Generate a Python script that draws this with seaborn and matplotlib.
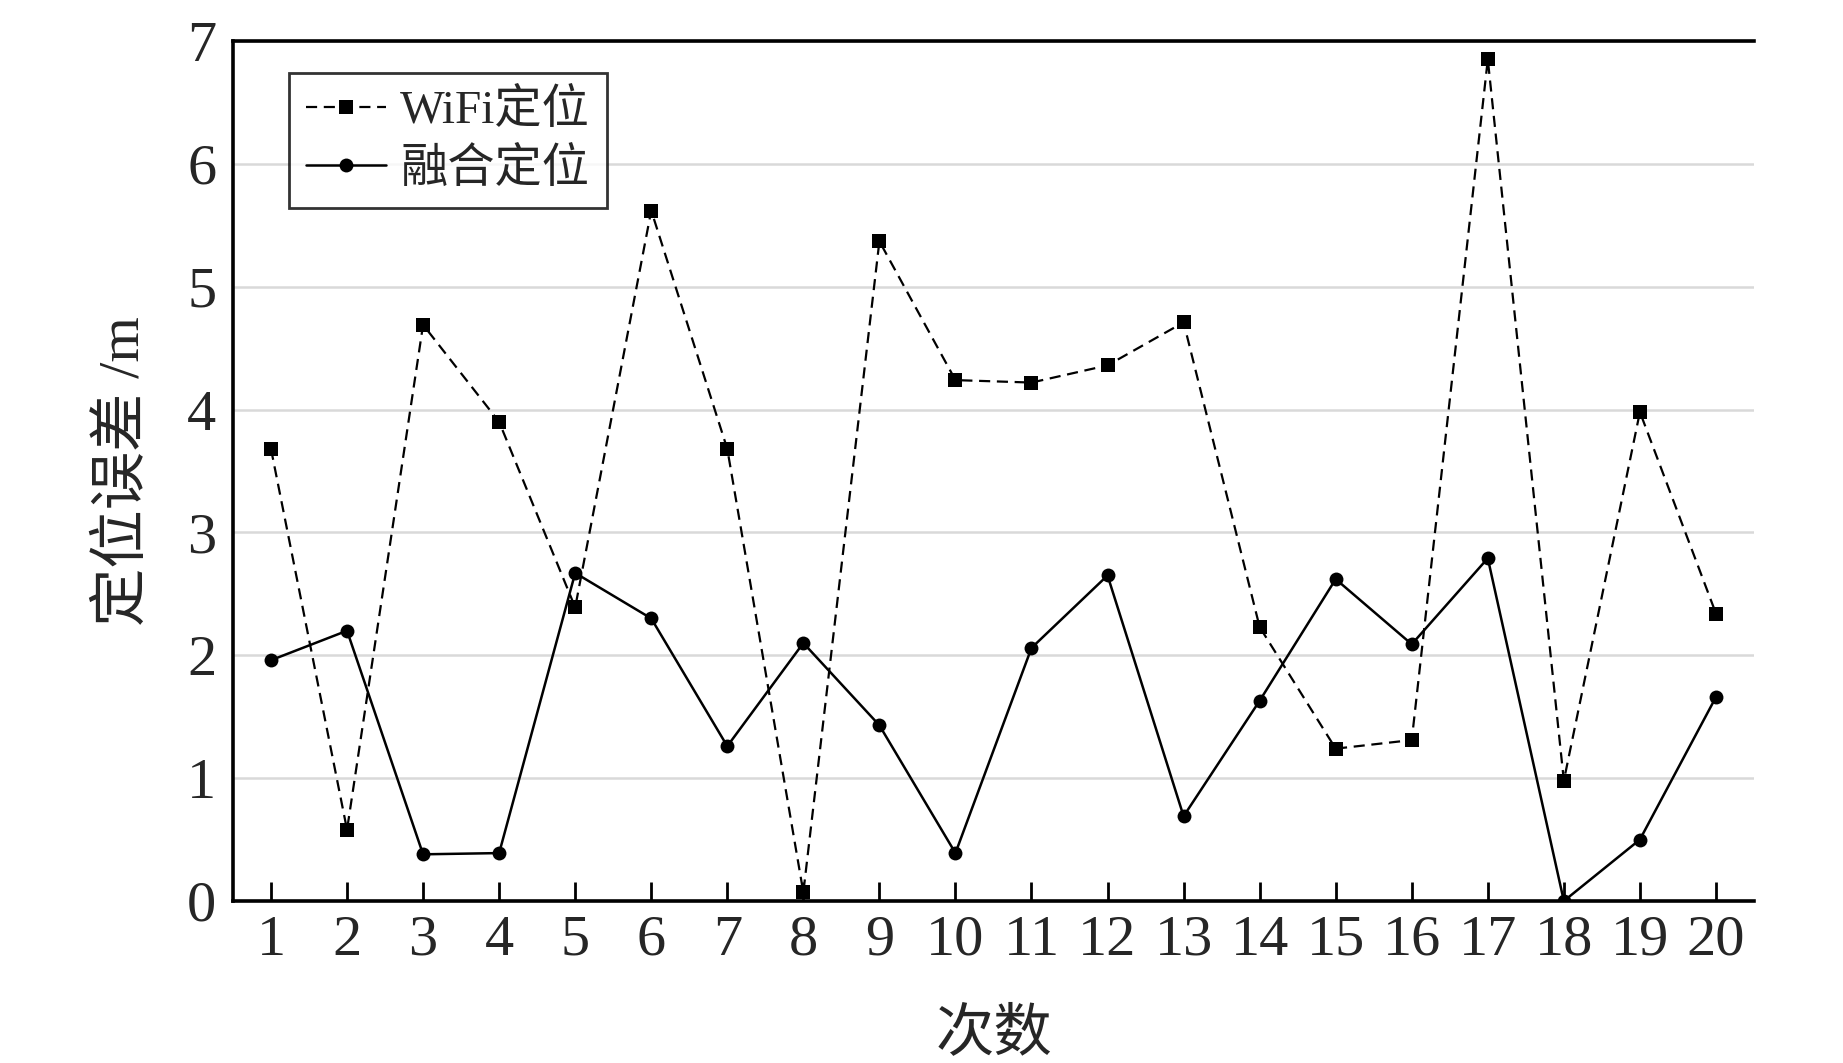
import pandas as pd
import matplotlib
matplotlib.use("Agg")
import matplotlib.pyplot as plt
import seaborn as sns

# 次数
runs = list(range(1, 21))
# WiFi定位 误差 (m)
wifi_err = [3.68, 0.58, 4.69, 3.90, 2.39, 5.62, 3.68, 0.07, 5.37, 4.24,
            4.22, 4.36, 4.71, 2.23, 1.24, 1.31, 6.85, 0.98, 3.98, 2.34]
# 融合定位 误差 (m)
fused_err = [1.96, 2.20, 0.38, 0.39, 2.67, 2.30, 1.26, 2.10, 1.43, 0.39,
             2.06, 2.65, 0.69, 1.63, 2.62, 2.09, 2.79, 0.00, 0.50, 1.66]

sns.set_style("white")
plt.rcParams['font.family'] = ['Liberation Serif', 'Noto Sans CJK SC']

df = pd.DataFrame({'run': runs, 'wifi': wifi_err, 'fused': fused_err})

fig = plt.figure(figsize=(18.43, 10.63), dpi=100)
ax = fig.add_axes([0.1264, 0.1524, 0.8253, 0.809])

sns.lineplot(data=df, x='run', y='wifi', ax=ax, color='black',
             linestyle='--', linewidth=1.6, marker='s', markersize=10,
             markeredgewidth=0, label='WiFi定位')
ax.lines[-1].set_dashes((5, 3))
sns.lineplot(data=df, x='run', y='fused', ax=ax, color='black',
             linestyle='-', linewidth=1.8, marker='o', markersize=10,
             markeredgewidth=0, label='融合定位')

ax.set_xlim(0.5, 20.5)
ax.set_ylim(0, 7)
ax.set_xticks(runs)
ax.set_yticks(range(0, 8))
ax.yaxis.grid(True, color='#d9d9d9', linewidth=1.8)
ax.set_axisbelow(True)

for side in ['left', 'bottom', 'top']:
    ax.spines[side].set_linewidth(2.6)
    ax.spines[side].set_color('black')
ax.spines['right'].set_visible(False)

ax.tick_params(axis='x', bottom=True, direction='in', length=14, width=2,
               color='black', labelsize=42, pad=10)
ax.tick_params(axis='y', left=False, length=0, labelsize=42, pad=12)

ax.set_xlabel('次数', fontsize=42, labelpad=30)
ax.set_ylabel('定位误差 /m', fontsize=42, labelpad=26)

leg = ax.legend(loc='upper left', bbox_to_anchor=(0.037, 0.963), fontsize=34,
                frameon=True, fancybox=False, edgecolor='black',
                handlelength=1.7, borderpad=0.35, labelspacing=0.3,
                handletextpad=0.3, borderaxespad=0)
leg.get_frame().set_linewidth(2)

fig.savefig('out.png', dpi=100)
